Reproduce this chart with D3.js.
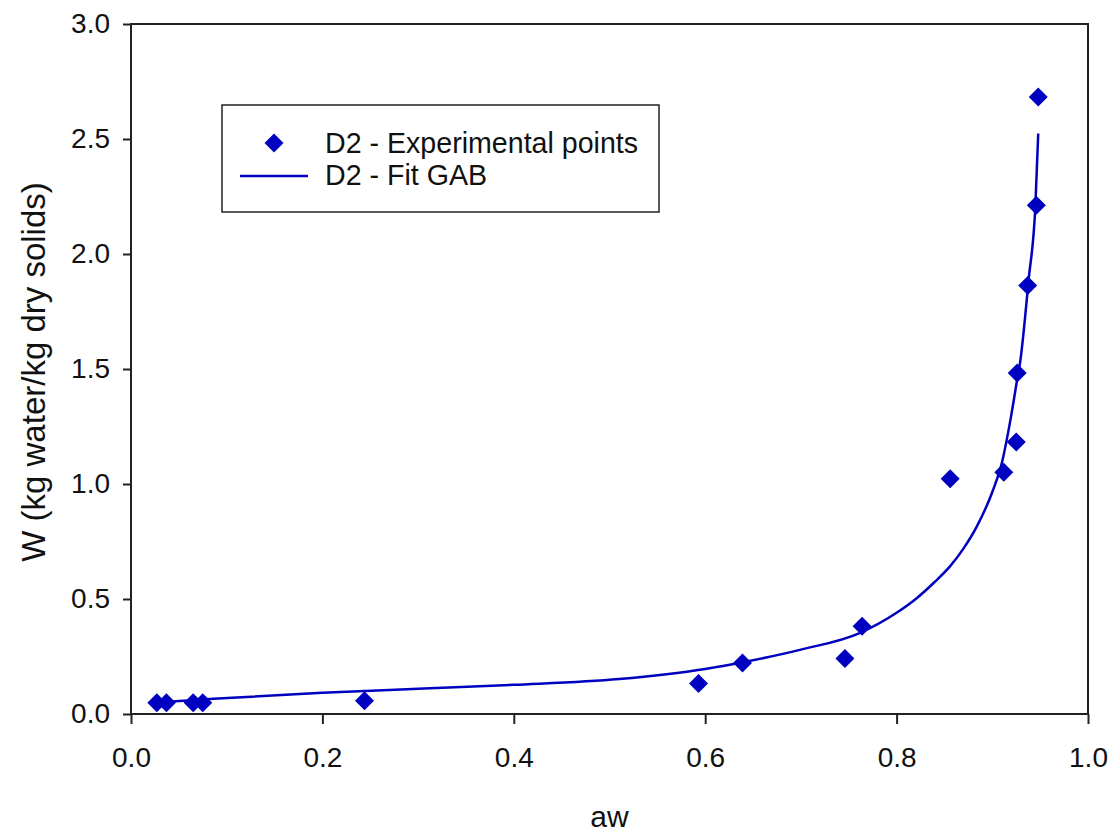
<!DOCTYPE html>
<html lang="en">
<head>
    <meta charset="UTF-8">
    <title>GAB sorption isotherm</title>

    <script src="https://d3js.org/d3.v7.min.js"></script>

    <style>
        body { margin: 0; background: #fff; }
        svg { display: block; font-family: "Liberation Sans", Arial, sans-serif; }
        .frame { fill: none; stroke: #222; stroke-width: 2px; }
        .fit { fill: none; stroke: #0000c0; stroke-width: 2.5px; }
        .pt { fill: #0000c0; }
    </style>
</head>
<body>
<div id="chart"></div>
<script>
    // experimental points
    var awPoints = [0.027, 0.037, 0.065, 0.075, 0.244, 0.593, 0.639, 0.746, 0.764,
                    0.856, 0.912, 0.925, 0.926, 0.937, 0.946, 0.948];
    var wPoints  = [0.049, 0.049, 0.049, 0.049, 0.058, 0.133, 0.222, 0.241, 0.382,
                    1.023, 1.051, 1.183, 1.483, 1.863, 2.212, 2.683];

    // fitted GAB curve
    var awFit = [0.027, 0.05, 0.086, 0.2, 0.3, 0.4, 0.51, 0.6, 0.639, 0.7, 0.762, 0.8,
                 0.82, 0.84, 0.856, 0.87, 0.884, 0.901, 0.910, 0.919, 0.926, 0.929, 0.938, 0.945, 0.948];
    var wFit  = [0.048, 0.056, 0.066, 0.092, 0.110, 0.127, 0.152, 0.196, 0.225, 0.28, 0.353, 0.44,
                 0.50, 0.575, 0.643, 0.72, 0.817, 0.976, 1.092, 1.28, 1.454, 1.527, 1.889, 2.21, 2.524];

    var xTicks = [0, 0.2, 0.4, 0.6, 0.8, 1.0];
    var yTicks = [0, 0.5, 1.0, 1.5, 2.0, 2.5, 3.0];

    var legendLabels = ["D2 - Experimental points", "D2 - Fit GAB"];

    var margin = {top: 24, right: 28, bottom: 122, left: 131},
        width = 1116 - margin.left - margin.right,
        height = 836 - margin.top - margin.bottom;

    var x = d3.scaleLinear().domain([0, 1]).range([0, width]);
    var y = d3.scaleLinear().domain([0, 3]).range([height, 0]);

    var svg = d3.select("#chart")
        .append("svg")
        .attr("width", width + margin.left + margin.right)
        .attr("height", height + margin.top + margin.bottom);

    var g = svg.append("g")
        .attr("transform", "translate(" + margin.left + "," + margin.top + ")");

    // axes
    var xAxis = d3.axisBottom(x).tickValues(xTicks).tickFormat(d3.format(".1f"))
        .tickSize(10).tickSizeOuter(0).tickPadding(23);
    var yAxis = d3.axisLeft(y).tickValues(yTicks).tickFormat(d3.format(".1f"))
        .tickSize(8).tickSizeOuter(0).tickPadding(13);

    var gx = g.append("g")
        .attr("transform", "translate(0," + height + ")")
        .call(xAxis);
    var gy = g.append("g").call(yAxis);

    [gx, gy].forEach(function(a) {
        a.select(".domain").remove();
        a.selectAll(".tick line").attr("stroke", "#222").attr("stroke-width", 2);
        a.selectAll(".tick text").attr("fill", "#111").style("font-size", "28px");
    });

    // box around plot
    g.append("rect")
        .attr("class", "frame")
        .attr("x", 0).attr("y", 0)
        .attr("width", width).attr("height", height);

    // fit line
    var fitData = awFit.map(function(d, i) { return [d, wFit[i]]; });
    var line = d3.line()
        .x(function(d) { return x(d[0]); })
        .y(function(d) { return y(d[1]); })
        .curve(d3.curveMonotoneX);

    g.append("path")
        .datum(fitData)
        .attr("class", "fit")
        .attr("d", line);

    // diamonds
    var diamond = "M0,-9.5L9.5,0L0,9.5L-9.5,0Z";
    g.selectAll(".pt")
        .data(awPoints)
        .enter().append("path")
        .attr("class", "pt")
        .attr("d", diamond)
        .attr("transform", function(d, i) {
            return "translate(" + x(d) + "," + y(wPoints[i]) + ")";
        });

    // axis titles
    svg.append("text")
        .attr("x", margin.left + width / 2)
        .attr("y", 827)
        .attr("text-anchor", "middle")
        .style("font-size", "30px")
        .attr("fill", "#111")
        .text("aw");

    svg.append("text")
        .attr("transform", "translate(45," + (margin.top + height / 2 + 3) + ") rotate(-90)")
        .attr("text-anchor", "middle")
        .style("font-size", "33px")
        .attr("fill", "#111")
        .text("W (kg water/kg dry solids)");

    // legend
    var lg = svg.append("g").attr("transform", "translate(222,105)");
    lg.append("rect")
        .attr("width", 437).attr("height", 107)
        .attr("fill", "#fff").attr("stroke", "#222").attr("stroke-width", 1.5);
    lg.append("path")
        .attr("class", "pt")
        .attr("d", diamond)
        .attr("transform", "translate(52,38)");
    lg.append("line")
        .attr("x1", 18).attr("x2", 86).attr("y1", 71).attr("y2", 71)
        .attr("stroke", "#0000c0").attr("stroke-width", 2.5);
    lg.selectAll(".lab")
        .data(legendLabels)
        .enter().append("text")
        .attr("x", 103)
        .attr("y", function(d, i) { return 48 + i * 32; })
        .style("font-size", "28.6px")
        .attr("fill", "#111")
        .text(function(d) { return d; });
</script>

</body>
</html>
